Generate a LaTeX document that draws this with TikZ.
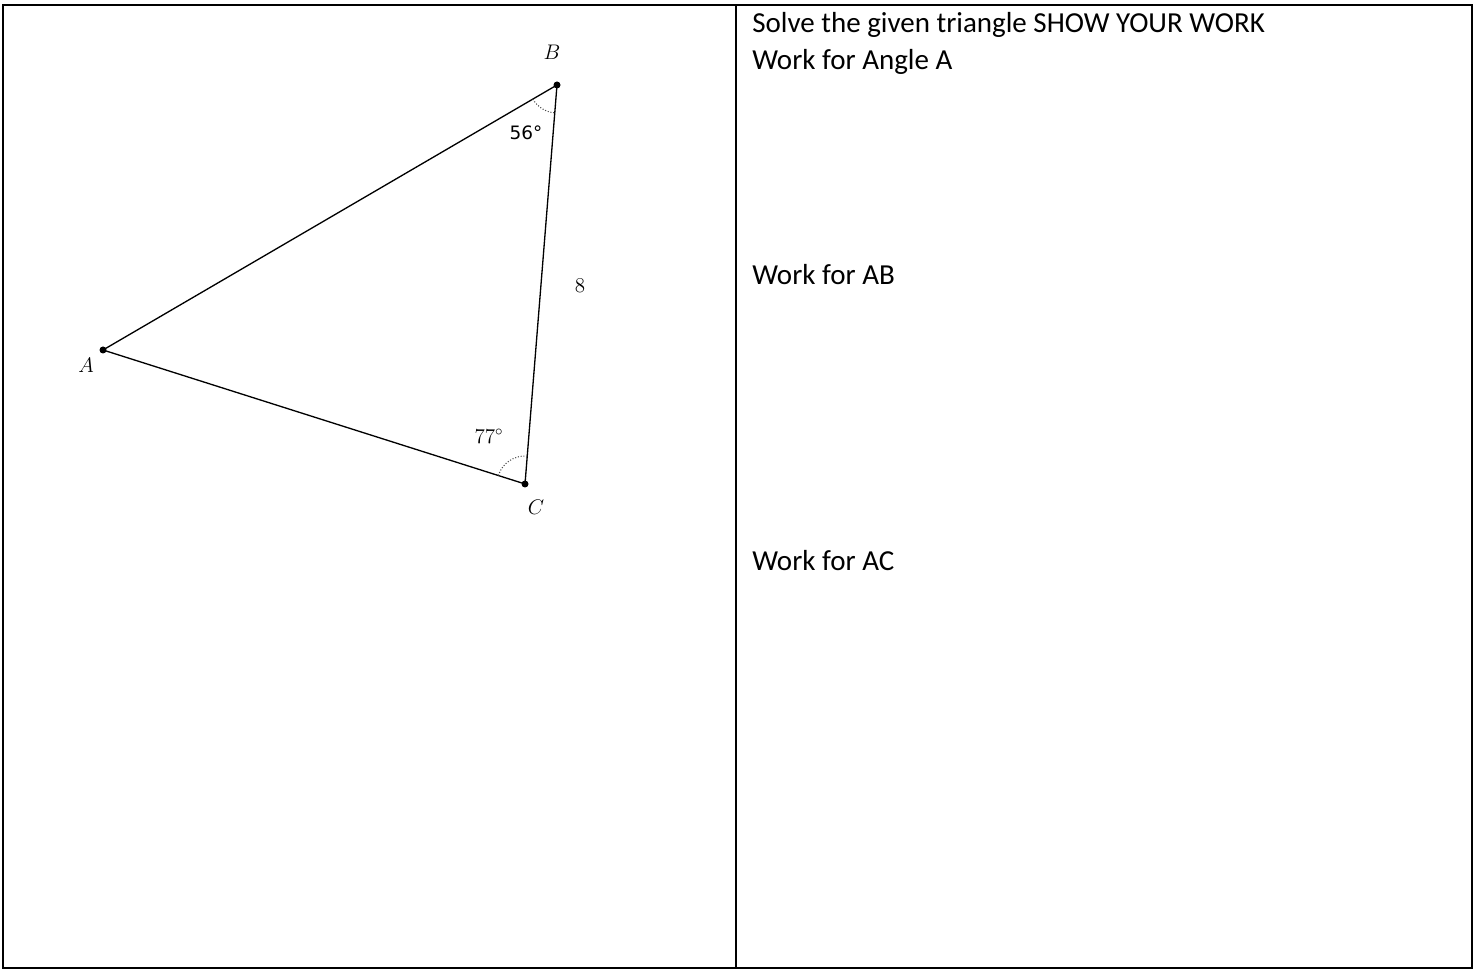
\documentclass[tikz,border=0pt]{standalone}
\usepackage{fontspec}
\setmainfont{Carlito}
\newfontfamily\geofont{DejaVu Sans}
\usetikzlibrary{angles}
\begin{document}
\begin{tikzpicture}[x=0.02cm,y=0.02cm,
  frame/.style={line width=1.1pt},
  side/.style={line width=0.75pt},
  vdot/.style={circle,fill=black,inner sep=0pt,minimum size=0.14cm},
  ptlabel/.style={font=\fontsize{12}{14}\selectfont},
  anglabel/.style={font=\geofont\fontsize{10.5}{12}\selectfont},
  seriflabel/.style={font=\fontsize{12}{14}\selectfont},
  arcmark/.style={draw,densely dotted,draw=black!70,line width=0.6pt,angle radius=0.56cm},
  work/.style={anchor=west,inner sep=0pt,font=\fontsize{16.5}{20}\selectfont}]
\useasboundingbox (0,0) rectangle (1483,973);
% table
\draw[frame] (3,968) rectangle (1472,5);
\draw[frame] (736,968) -- (736,5);
% triangle
\coordinate (A) at (103,623);
\coordinate (B) at (557,888);
\coordinate (C) at (525,489);
\draw[side] (A) -- (B) -- (C) -- cycle;
\pic[arcmark] {angle=A--B--C};
\pic[arcmark] {angle=B--C--A};
\node[vdot] (dA) at (A) {};
\node[vdot] (dB) at (B) {};
\node[vdot] (dC) at (C) {};
\node[ptlabel] (lA) at (86,608) {$A$};
\node[ptlabel] (lB) at (552,921) {$B$};
\node[ptlabel] (lC) at (536,466) {$C$};
\node[anglabel] (a56) at (526,840) {56°};
\node[seriflabel] (a77) at (489,537) {$77^\circ$};
\node[seriflabel] (s8) at (580,687) {$8$};
% right column text
\node[work] (t1) at (752,948) {Solve the given triangle SHOW YOUR WORK};
\node[work] (t2) at (752,911) {Work for Angle A};
\node[work] (t3) at (752,698) {Work for AB};
\node[work] (t4) at (752,412) {Work for AC};
\end{tikzpicture}
\end{document}
